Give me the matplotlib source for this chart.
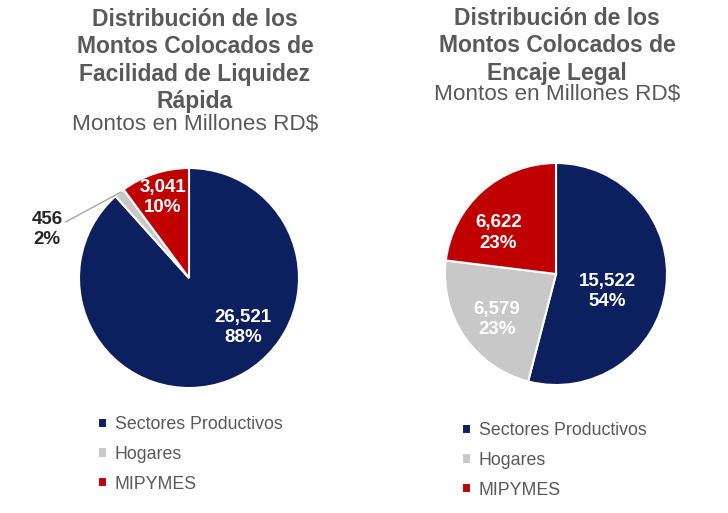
import matplotlib
matplotlib.use("Agg")
import matplotlib.pyplot as plt

plt.rcParams['font.family'] = ['Liberation Sans', 'DejaVu Sans']

categorias = ["Sectores Productivos", "Hogares", "MIPYMES"]
colores = ["#0c1f5e", "#c8c8c8", "#c00000"]

montos_flr = [26521, 456, 3041]
montos_encaje = [15522, 6579, 6622]

titulo_flr = "Distribución de los\nMontos Colocados de\nFacilidad de Liquidez\nRápida"
titulo_encaje = "Distribución de los\nMontos Colocados de\nEncaje Legal"
subtitulo = "Montos en Millones RD$"

W, H = 728, 513
fig = plt.figure(figsize=(W / 100, H / 100), dpi=100)


def pie_axes(cx, cy, r):
    return fig.add_axes([(cx - r) / W, 1 - (cy + r) / H, 2 * r / W, 2 * r / H])


def draw_pie(ax, valores, pos_etiquetas, colores_texto):
    wedges, _ = ax.pie(valores, colors=colores, startangle=90, counterclock=False,
                       wedgeprops=dict(edgecolor="white", linewidth=1.5))
    total = sum(valores)
    for v, (x, y), c in zip(valores, pos_etiquetas, colores_texto):
        pct = round(100 * v / total)
        ax.text(x, y, f"{v:,}\n{pct}%", color=c, ha="center", va="center",
                fontsize=13.5, fontweight="bold", linespacing=1.25, clip_on=False)
    ax.set_xlim(-1, 1)
    ax.set_ylim(-1, 1)
    ax.set_aspect("equal")
    return wedges


# left pie
ax1 = pie_axes(189, 278, 110)
w1 = draw_pie(ax1, montos_flr, [(0.49, -0.45), (-1.29, 0.44), (-0.24, 0.73)],
              ["white", "#262626", "white"])
ax1.plot([-1.12, -0.62], [0.51, 0.78], color="#a6a6a6", lw=1, clip_on=False)

# right pie
ax2 = pie_axes(556, 274, 111)
w2 = draw_pie(ax2, montos_encaje, [(0.46, -0.16), (-0.53, -0.41), (-0.52, 0.37)],
              ["white", "white", "white"])

# titles
fig.text(195 / W, 1 - 8 / H, titulo_flr, ha="center", va="top", fontsize=16.5,
         fontweight="bold", color="#595959", linespacing=1.24)
fig.text(195 / W, 1 - 124 / H, subtitulo, ha="center", va="center", fontsize=16.2,
         color="#595959")
fig.text(557 / W, 1 - 7 / H, titulo_encaje, ha="center", va="top", fontsize=16.5,
         fontweight="bold", color="#595959", linespacing=1.24)
fig.text(557 / W, 1 - 94 / H, subtitulo, ha="center", va="center", fontsize=16.2,
         color="#595959")

# legends
for wedges, x0, y0 in [(w1, 98, 416), (w2, 462, 422)]:
    fig.legend(wedges, categorias, loc="upper left",
               bbox_to_anchor=(x0 / W, 1 - y0 / H), frameon=False,
               fontsize=12.8, labelcolor="#595959", handlelength=0.5,
               handleheight=0.5, handletextpad=0.45, labelspacing=0.72,
               borderpad=0, borderaxespad=0)

fig.savefig("out.png", dpi=100)
